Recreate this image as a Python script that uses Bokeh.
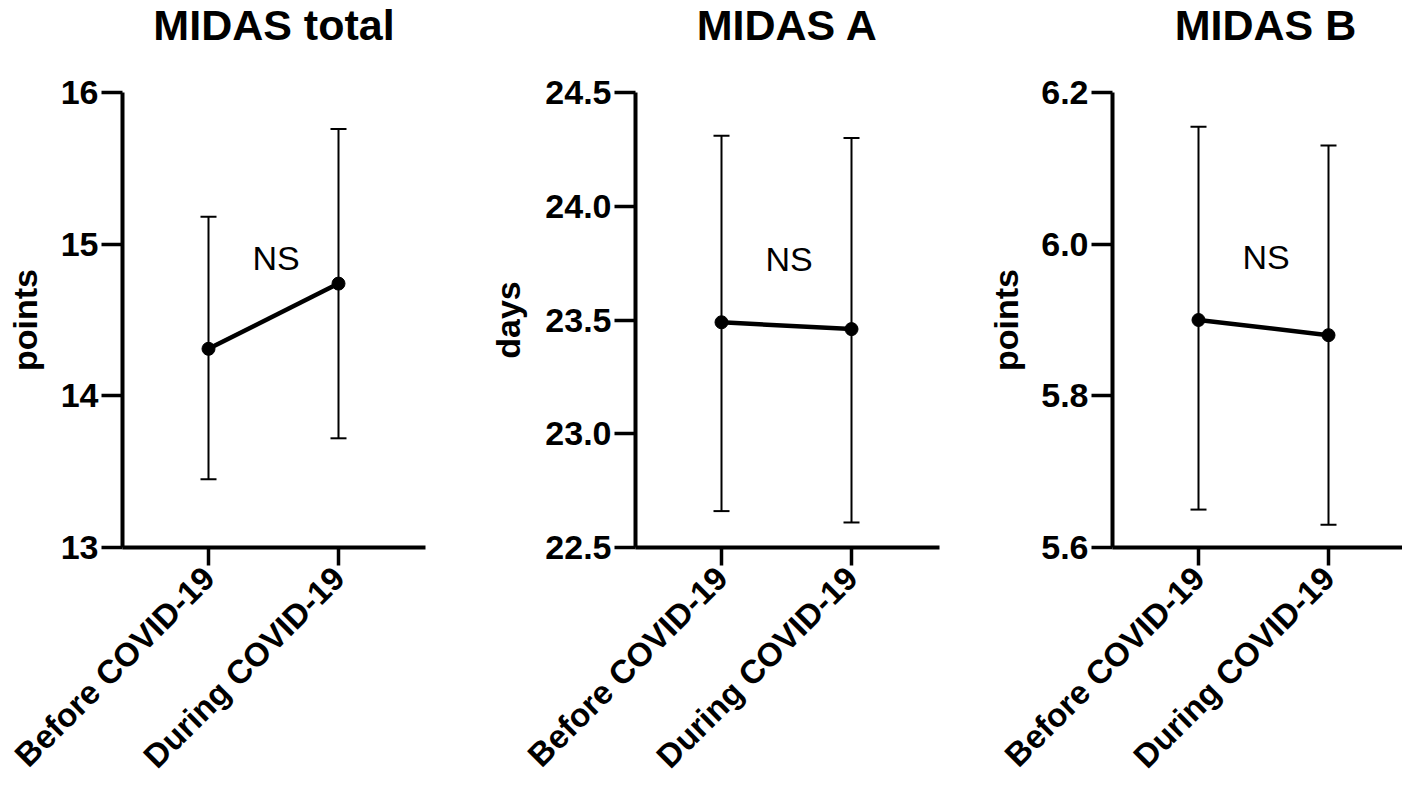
import math
from bokeh.plotting import figure
from bokeh.models import (FixedTicker, Whisker, TeeHead, ColumnDataSource, Range1d,
                          PrintfTickFormatter)
from bokeh.layouts import row
from bokeh.embed import file_html
from bokeh.resources import INLINE
from bokeh.core.properties import value

# ---- data ----
groups = ["Before COVID-19", "During COVID-19"]
titles = ["MIDAS total", "MIDAS A", "MIDAS B"]
y_titles = ["points", "days", "points"]

total_mean = [14.31, 14.74]
total_low = [13.45, 13.72]
total_high = [15.18, 15.76]

a_mean = [23.49, 23.46]
a_low = [22.66, 22.61]
a_high = [24.31, 24.30]

b_mean = [5.90, 5.88]
b_low = [5.65, 5.63]
b_high = [6.155, 6.13]

ticks_total = [13, 14, 15, 16]
tick_labels_total = ["13", "14", "15", "16"]
ticks_a = [22.5, 23.0, 23.5, 24.0, 24.5]
tick_labels_a = ["22.5", "23.0", "23.5", "24.0", "24.5"]
ticks_b = [5.6, 5.8, 6.0, 6.2]
tick_labels_b = ["5.6", "5.8", "6.0", "6.2"]

ns_label = "NS"
ns_y = [14.91, 23.77, 5.983]

# ---- layout (pixels) ----
FONT = "Liberation Sans"
PX_PER_CAT = 130.0
PAD_LEFT = 86.0
HEIGHT = 778
TOP = 92          # pixel row of the top tick
FRAME_H = 455     # pixel height between bottom and top tick
TITLE_MID = 24    # pixel row of the title middle


def panel(title, ytitle, mean, low, high, ticks, tick_labels, nsy, fmt,
          width, axis_px, plot_w, ylab_gap):
    # whole figure is the frame; axes are pinned with fixed_location
    x_axis0 = -PAD_LEFT / PX_PER_CAT
    x0 = x_axis0 - axis_px / PX_PER_CAT
    x1 = x0 + width / PX_PER_CAT
    x_plot_end = x_axis0 + plot_w / PX_PER_CAT
    ppu = FRAME_H / (ticks[-1] - ticks[0])
    y_top = ticks[-1] + TOP / ppu
    y_bot = ticks[0] - (HEIGHT - TOP - FRAME_H) / ppu
    p = figure(width=width, height=HEIGHT, output_backend="svg", toolbar_location=None,
               x_range=Range1d(x0, x1), y_range=Range1d(y_bot, y_top),
               min_border_left=0, min_border_right=0,
               min_border_top=0, min_border_bottom=0)
    p.outline_line_color = None
    p.xgrid.visible = False
    p.ygrid.visible = False
    p.background_fill_color = "white"
    p.border_fill_color = "white"

    xs = list(range(len(groups)))

    xa = p.xaxis[0]
    xa.fixed_location = ticks[0]
    xa.bounds = (x_axis0, min(x_plot_end, x1))
    xa.ticker = FixedTicker(ticks=xs)
    xa.major_label_overrides = {i: g for i, g in zip(xs, groups)}
    xa.major_label_orientation = math.pi / 4
    xa.major_label_text_font = FONT
    xa.major_label_text_font_size = "33px"
    xa.major_label_text_font_style = "bold"
    xa.major_label_text_color = "black"
    xa.major_label_standoff = 7
    xa.major_tick_out = 18
    xa.major_tick_in = 0
    xa.minor_tick_out = 0
    xa.minor_tick_in = 0
    xa.axis_line_width = 4
    xa.axis_line_color = "black"
    xa.major_tick_line_width = 3.5
    xa.major_tick_line_color = "black"

    ya = p.yaxis[0]
    ya.fixed_location = x_axis0
    ya.bounds = (ticks[0], ticks[-1])
    ya.ticker = FixedTicker(ticks=ticks)
    ya.formatter = PrintfTickFormatter(format=fmt)
    ya.major_label_overrides = {t: l for t, l in zip(ticks, tick_labels)}
    ya.major_label_text_font = FONT
    ya.major_label_text_font_size = "34px"
    ya.major_label_text_font_style = "bold"
    ya.major_label_text_color = "black"
    ya.major_label_standoff = 3
    ya.major_tick_out = 21
    ya.major_tick_in = 0
    ya.minor_tick_out = 0
    ya.minor_tick_in = 0
    ya.axis_line_width = 4
    ya.axis_line_color = "black"
    ya.major_tick_line_width = 3.5
    ya.major_tick_line_color = "black"

    # y-axis title (rotated)
    p.text(x=[x_axis0 - ylab_gap / PX_PER_CAT], y=[(ticks[0] + ticks[-1]) / 2],
           text=[ytitle], angle=math.pi / 2, text_font=value(FONT),
           text_font_size="34px", text_font_style="bold",
           text_align="center", text_baseline="middle", text_color="black")

    # panel title
    p.text(x=[x_axis0 + plot_w / 2 / PX_PER_CAT], y=[ticks[-1] + (TOP - TITLE_MID) / ppu],
           text=[title], text_font=value(FONT), text_font_size="43px",
           text_font_style="bold", text_align="center", text_baseline="middle",
           text_color="black")

    src = ColumnDataSource(dict(x=xs, mean=mean, low=low, high=high))
    w = Whisker(base="x", upper="high", lower="low", source=src,
                line_width=2, line_color="black",
                upper_head=TeeHead(size=16, line_width=2, line_color="black"),
                lower_head=TeeHead(size=16, line_width=2, line_color="black"))
    p.add_layout(w)
    p.line("x", "mean", source=src, line_width=4.5, line_color="black")
    p.scatter("x", "mean", source=src, size=13, color="black")

    p.text(x=[0.52], y=[nsy], text=[ns_label], text_font=value(FONT),
           text_font_size="34px", text_align="center", text_baseline="middle",
           text_color="black")
    return p


p1 = panel(titles[0], y_titles[0], total_mean, total_low, total_high,
           ticks_total, tick_labels_total, ns_y[0], "%d", 480, 122, 303, 98)
p2 = panel(titles[1], y_titles[1], a_mean, a_low, a_high,
           ticks_a, tick_labels_a, ns_y[1], "%.1f", 480, 155, 304, 128)
p3 = panel(titles[2], y_titles[2], b_mean, b_low, b_high,
           ticks_b, tick_labels_b, ns_y[2], "%.1f", 442, 152, 306, 107)

layout = row(p1, p2, p3)
open("out.html", "w").write(file_html(layout, INLINE))
